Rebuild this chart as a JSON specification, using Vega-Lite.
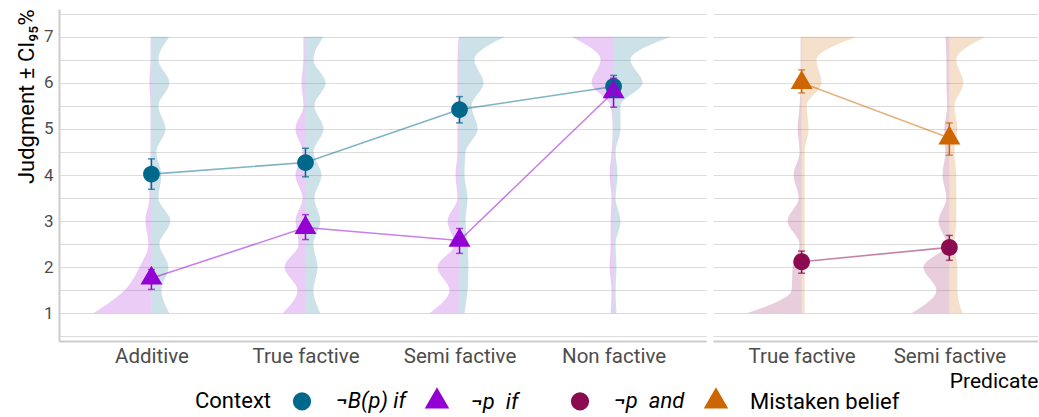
{
  "$schema": "https://vega.github.io/schema/vega-lite/v6.json",
  "padding": {"left": 14, "top": 8, "right": 0, "bottom": 0},
  "spacing": 7,
  "datasets": {
    "pts": [
      {"Context": "¬B(p) if", "Predicate": "Additive", "judgment": 4.02, "lo": 3.69, "hi": 4.35},
      {"Context": "¬B(p) if", "Predicate": "True factive", "judgment": 4.27, "lo": 3.96, "hi": 4.58},
      {"Context": "¬B(p) if", "Predicate": "Semi factive", "judgment": 5.42, "lo": 5.13, "hi": 5.70},
      {"Context": "¬B(p) if", "Predicate": "Non factive", "judgment": 5.92, "lo": 5.70, "hi": 6.16},
      {"Context": "¬p if", "Predicate": "Additive", "judgment": 1.76, "lo": 1.52, "hi": 1.95},
      {"Context": "¬p if", "Predicate": "True factive", "judgment": 2.86, "lo": 2.60, "hi": 3.14},
      {"Context": "¬p if", "Predicate": "Semi factive", "judgment": 2.58, "lo": 2.30, "hi": 2.84},
      {"Context": "¬p if", "Predicate": "Non factive", "judgment": 5.80, "lo": 5.47, "hi": 6.10},
      {"Context": "¬p and", "Predicate": "True factive", "judgment": 2.12, "lo": 1.87, "hi": 2.35},
      {"Context": "¬p and", "Predicate": "Semi factive", "judgment": 2.43, "lo": 2.15, "hi": 2.69},
      {"Context": "Mistaken belief", "Predicate": "True factive", "judgment": 6.00, "lo": 5.78, "hi": 6.28},
      {"Context": "Mistaken belief", "Predicate": "Semi factive", "judgment": 4.80, "lo": 4.43, "hi": 5.13}
    ],
    "vio": [
      {"Context":"¬B(p) if","Predicate":"Additive","judgment":1,"density":0.117},
      {"Context":"¬B(p) if","Predicate":"Additive","judgment":1.5,"density":0.065},
      {"Context":"¬B(p) if","Predicate":"Additive","judgment":2,"density":0.110},
      {"Context":"¬B(p) if","Predicate":"Additive","judgment":2.5,"density":0.052},
      {"Context":"¬B(p) if","Predicate":"Additive","judgment":3,"density":0.123},
      {"Context":"¬B(p) if","Predicate":"Additive","judgment":3.5,"density":0.045},
      {"Context":"¬B(p) if","Predicate":"Additive","judgment":4,"density":0.065},
      {"Context":"¬B(p) if","Predicate":"Additive","judgment":4.5,"density":0.032},
      {"Context":"¬B(p) if","Predicate":"Additive","judgment":5,"density":0.091},
      {"Context":"¬B(p) if","Predicate":"Additive","judgment":5.5,"density":0.045},
      {"Context":"¬B(p) if","Predicate":"Additive","judgment":6,"density":0.117},
      {"Context":"¬B(p) if","Predicate":"Additive","judgment":6.5,"density":0.045},
      {"Context":"¬B(p) if","Predicate":"Additive","judgment":7,"density":0.117},
      {"Context":"¬B(p) if","Predicate":"True factive","judgment":1,"density":0.097},
      {"Context":"¬B(p) if","Predicate":"True factive","judgment":1.5,"density":0.052},
      {"Context":"¬B(p) if","Predicate":"True factive","judgment":2,"density":0.078},
      {"Context":"¬B(p) if","Predicate":"True factive","judgment":2.5,"density":0.052},
      {"Context":"¬B(p) if","Predicate":"True factive","judgment":3,"density":0.097},
      {"Context":"¬B(p) if","Predicate":"True factive","judgment":3.5,"density":0.058},
      {"Context":"¬B(p) if","Predicate":"True factive","judgment":4,"density":0.104},
      {"Context":"¬B(p) if","Predicate":"True factive","judgment":4.5,"density":0.052},
      {"Context":"¬B(p) if","Predicate":"True factive","judgment":5,"density":0.117},
      {"Context":"¬B(p) if","Predicate":"True factive","judgment":5.5,"density":0.058},
      {"Context":"¬B(p) if","Predicate":"True factive","judgment":6,"density":0.130},
      {"Context":"¬B(p) if","Predicate":"True factive","judgment":6.5,"density":0.052},
      {"Context":"¬B(p) if","Predicate":"True factive","judgment":7,"density":0.117},
      {"Context":"¬B(p) if","Predicate":"Semi factive","judgment":1,"density":0.032},
      {"Context":"¬B(p) if","Predicate":"Semi factive","judgment":1.5,"density":0.052},
      {"Context":"¬B(p) if","Predicate":"Semi factive","judgment":2,"density":0.058},
      {"Context":"¬B(p) if","Predicate":"Semi factive","judgment":2.5,"density":0.052},
      {"Context":"¬B(p) if","Predicate":"Semi factive","judgment":3,"density":0.039},
      {"Context":"¬B(p) if","Predicate":"Semi factive","judgment":3.5,"density":0.052},
      {"Context":"¬B(p) if","Predicate":"Semi factive","judgment":4,"density":0.032},
      {"Context":"¬B(p) if","Predicate":"Semi factive","judgment":4.5,"density":0.039},
      {"Context":"¬B(p) if","Predicate":"Semi factive","judgment":5,"density":0.117},
      {"Context":"¬B(p) if","Predicate":"Semi factive","judgment":5.5,"density":0.078},
      {"Context":"¬B(p) if","Predicate":"Semi factive","judgment":6,"density":0.156},
      {"Context":"¬B(p) if","Predicate":"Semi factive","judgment":6.5,"density":0.097},
      {"Context":"¬B(p) if","Predicate":"Semi factive","judgment":7,"density":0.292},
      {"Context":"¬B(p) if","Predicate":"Non factive","judgment":1,"density":0.019},
      {"Context":"¬B(p) if","Predicate":"Non factive","judgment":1.5,"density":0.013},
      {"Context":"¬B(p) if","Predicate":"Non factive","judgment":2,"density":0.019},
      {"Context":"¬B(p) if","Predicate":"Non factive","judgment":2.5,"density":0.013},
      {"Context":"¬B(p) if","Predicate":"Non factive","judgment":3,"density":0.045},
      {"Context":"¬B(p) if","Predicate":"Non factive","judgment":3.5,"density":0.013},
      {"Context":"¬B(p) if","Predicate":"Non factive","judgment":4,"density":0.026},
      {"Context":"¬B(p) if","Predicate":"Non factive","judgment":4.5,"density":0.013},
      {"Context":"¬B(p) if","Predicate":"Non factive","judgment":5,"density":0.045},
      {"Context":"¬B(p) if","Predicate":"Non factive","judgment":5.5,"density":0.045},
      {"Context":"¬B(p) if","Predicate":"Non factive","judgment":6,"density":0.188},
      {"Context":"¬B(p) if","Predicate":"Non factive","judgment":6.5,"density":0.110},
      {"Context":"¬B(p) if","Predicate":"Non factive","judgment":7,"density":0.370},
      {"Context":"¬p if","Predicate":"Additive","judgment":1,"density":0.377},
      {"Context":"¬p if","Predicate":"Additive","judgment":1.5,"density":0.175},
      {"Context":"¬p if","Predicate":"Additive","judgment":2,"density":0.078},
      {"Context":"¬p if","Predicate":"Additive","judgment":2.5,"density":0.019},
      {"Context":"¬p if","Predicate":"Additive","judgment":3,"density":0.039},
      {"Context":"¬p if","Predicate":"Additive","judgment":3.5,"density":0.013},
      {"Context":"¬p if","Predicate":"Additive","judgment":4,"density":0.013},
      {"Context":"¬p if","Predicate":"Additive","judgment":4.5,"density":0.006},
      {"Context":"¬p if","Predicate":"Additive","judgment":5,"density":0.006},
      {"Context":"¬p if","Predicate":"Additive","judgment":5.5,"density":0.006},
      {"Context":"¬p if","Predicate":"Additive","judgment":6,"density":0.013},
      {"Context":"¬p if","Predicate":"Additive","judgment":6.5,"density":0.006},
      {"Context":"¬p if","Predicate":"Additive","judgment":7,"density":0.006},
      {"Context":"¬p if","Predicate":"True factive","judgment":1,"density":0.149},
      {"Context":"¬p if","Predicate":"True factive","judgment":1.5,"density":0.052},
      {"Context":"¬p if","Predicate":"True factive","judgment":2,"density":0.136},
      {"Context":"¬p if","Predicate":"True factive","judgment":2.5,"density":0.045},
      {"Context":"¬p if","Predicate":"True factive","judgment":3,"density":0.065},
      {"Context":"¬p if","Predicate":"True factive","judgment":3.5,"density":0.019},
      {"Context":"¬p if","Predicate":"True factive","judgment":4,"density":0.065},
      {"Context":"¬p if","Predicate":"True factive","judgment":4.5,"density":0.019},
      {"Context":"¬p if","Predicate":"True factive","judgment":5,"density":0.065},
      {"Context":"¬p if","Predicate":"True factive","judgment":5.5,"density":0.013},
      {"Context":"¬p if","Predicate":"True factive","judgment":6,"density":0.026},
      {"Context":"¬p if","Predicate":"True factive","judgment":6.5,"density":0.013},
      {"Context":"¬p if","Predicate":"True factive","judgment":7,"density":0.013},
      {"Context":"¬p if","Predicate":"Semi factive","judgment":1,"density":0.195},
      {"Context":"¬p if","Predicate":"Semi factive","judgment":1.5,"density":0.065},
      {"Context":"¬p if","Predicate":"Semi factive","judgment":2,"density":0.143},
      {"Context":"¬p if","Predicate":"Semi factive","judgment":2.5,"density":0.032},
      {"Context":"¬p if","Predicate":"Semi factive","judgment":3,"density":0.078},
      {"Context":"¬p if","Predicate":"Semi factive","judgment":3.5,"density":0.013},
      {"Context":"¬p if","Predicate":"Semi factive","judgment":4,"density":0.026},
      {"Context":"¬p if","Predicate":"Semi factive","judgment":4.5,"density":0.013},
      {"Context":"¬p if","Predicate":"Semi factive","judgment":5,"density":0.013},
      {"Context":"¬p if","Predicate":"Semi factive","judgment":5.5,"density":0.013},
      {"Context":"¬p if","Predicate":"Semi factive","judgment":6,"density":0.013},
      {"Context":"¬p if","Predicate":"Semi factive","judgment":6.5,"density":0.013},
      {"Context":"¬p if","Predicate":"Semi factive","judgment":7,"density":0.006},
      {"Context":"¬p if","Predicate":"Non factive","judgment":1,"density":0.019},
      {"Context":"¬p if","Predicate":"Non factive","judgment":1.5,"density":0.013},
      {"Context":"¬p if","Predicate":"Non factive","judgment":2,"density":0.026},
      {"Context":"¬p if","Predicate":"Non factive","judgment":2.5,"density":0.019},
      {"Context":"¬p if","Predicate":"Non factive","judgment":3,"density":0.019},
      {"Context":"¬p if","Predicate":"Non factive","judgment":3.5,"density":0.013},
      {"Context":"¬p if","Predicate":"Non factive","judgment":4,"density":0.026},
      {"Context":"¬p if","Predicate":"Non factive","judgment":4.5,"density":0.013},
      {"Context":"¬p if","Predicate":"Non factive","judgment":5,"density":0.006},
      {"Context":"¬p if","Predicate":"Non factive","judgment":5.5,"density":0.019},
      {"Context":"¬p if","Predicate":"Non factive","judgment":6,"density":0.143},
      {"Context":"¬p if","Predicate":"Non factive","judgment":6.5,"density":0.084},
      {"Context":"¬p if","Predicate":"Non factive","judgment":7,"density":0.273},
      {"Context":"¬p and","Predicate":"True factive","judgment":1,"density":0.372},
      {"Context":"¬p and","Predicate":"True factive","judgment":1.5,"density":0.068},
      {"Context":"¬p and","Predicate":"True factive","judgment":2,"density":0.061},
      {"Context":"¬p and","Predicate":"True factive","judgment":2.5,"density":0.014},
      {"Context":"¬p and","Predicate":"True factive","judgment":3,"density":0.095},
      {"Context":"¬p and","Predicate":"True factive","judgment":3.5,"density":0.020},
      {"Context":"¬p and","Predicate":"True factive","judgment":4,"density":0.054},
      {"Context":"¬p and","Predicate":"True factive","judgment":4.5,"density":0.014},
      {"Context":"¬p and","Predicate":"True factive","judgment":5,"density":0.027},
      {"Context":"¬p and","Predicate":"True factive","judgment":5.5,"density":0.014},
      {"Context":"¬p and","Predicate":"True factive","judgment":6,"density":0.007},
      {"Context":"¬p and","Predicate":"True factive","judgment":6.5,"density":0.007},
      {"Context":"¬p and","Predicate":"True factive","judgment":7,"density":0.007},
      {"Context":"¬p and","Predicate":"Semi factive","judgment":1,"density":0.257},
      {"Context":"¬p and","Predicate":"Semi factive","judgment":1.5,"density":0.088},
      {"Context":"¬p and","Predicate":"Semi factive","judgment":2,"density":0.176},
      {"Context":"¬p and","Predicate":"Semi factive","judgment":2.5,"density":0.020},
      {"Context":"¬p and","Predicate":"Semi factive","judgment":3,"density":0.074},
      {"Context":"¬p and","Predicate":"Semi factive","judgment":3.5,"density":0.020},
      {"Context":"¬p and","Predicate":"Semi factive","judgment":4,"density":0.047},
      {"Context":"¬p and","Predicate":"Semi factive","judgment":4.5,"density":0.027},
      {"Context":"¬p and","Predicate":"Semi factive","judgment":5,"density":0.034},
      {"Context":"¬p and","Predicate":"Semi factive","judgment":5.5,"density":0.014},
      {"Context":"¬p and","Predicate":"Semi factive","judgment":6,"density":0.020},
      {"Context":"¬p and","Predicate":"Semi factive","judgment":6.5,"density":0.020},
      {"Context":"¬p and","Predicate":"Semi factive","judgment":7,"density":0.027},
      {"Context":"Mistaken belief","Predicate":"True factive","judgment":1,"density":0.020},
      {"Context":"Mistaken belief","Predicate":"True factive","judgment":1.5,"density":0.020},
      {"Context":"Mistaken belief","Predicate":"True factive","judgment":2,"density":0.020},
      {"Context":"Mistaken belief","Predicate":"True factive","judgment":2.5,"density":0.020},
      {"Context":"Mistaken belief","Predicate":"True factive","judgment":3,"density":0.020},
      {"Context":"Mistaken belief","Predicate":"True factive","judgment":3.5,"density":0.020},
      {"Context":"Mistaken belief","Predicate":"True factive","judgment":4,"density":0.020},
      {"Context":"Mistaken belief","Predicate":"True factive","judgment":4.5,"density":0.020},
      {"Context":"Mistaken belief","Predicate":"True factive","judgment":5,"density":0.047},
      {"Context":"Mistaken belief","Predicate":"True factive","judgment":5.5,"density":0.034},
      {"Context":"Mistaken belief","Predicate":"True factive","judgment":6,"density":0.135},
      {"Context":"Mistaken belief","Predicate":"True factive","judgment":6.5,"density":0.101},
      {"Context":"Mistaken belief","Predicate":"True factive","judgment":7,"density":0.372},
      {"Context":"Mistaken belief","Predicate":"Semi factive","judgment":1,"density":0.088},
      {"Context":"Mistaken belief","Predicate":"Semi factive","judgment":1.5,"density":0.054},
      {"Context":"Mistaken belief","Predicate":"Semi factive","judgment":2,"density":0.054},
      {"Context":"Mistaken belief","Predicate":"Semi factive","judgment":2.5,"density":0.034},
      {"Context":"Mistaken belief","Predicate":"Semi factive","judgment":3,"density":0.047},
      {"Context":"Mistaken belief","Predicate":"Semi factive","judgment":3.5,"density":0.047},
      {"Context":"Mistaken belief","Predicate":"Semi factive","judgment":4,"density":0.047},
      {"Context":"Mistaken belief","Predicate":"Semi factive","judgment":4.5,"density":0.034},
      {"Context":"Mistaken belief","Predicate":"Semi factive","judgment":5,"density":0.054},
      {"Context":"Mistaken belief","Predicate":"Semi factive","judgment":5.5,"density":0.034},
      {"Context":"Mistaken belief","Predicate":"Semi factive","judgment":6,"density":0.095},
      {"Context":"Mistaken belief","Predicate":"Semi factive","judgment":6.5,"density":0.047},
      {"Context":"Mistaken belief","Predicate":"Semi factive","judgment":7,"density":0.243}
    ]
  },
  "hconcat": [
    {
      "width": 647,
      "height": 332,
      "encoding": {
        "x": {"field": "xpos", "type": "quantitative", "stack": null,
          "scale": {"domain": [-0.6, 3.6], "nice": false, "zero": false},
          "axis": {"values": [0, 1, 2, 3], "labelExpr": "['Additive','True factive','Semi factive','Non factive'][datum.value]", "grid": false, "labelFontSize": 20.5, "labelPadding": 5, "labelFlush": false, "title": null}},
        "y": {"field": "judgment", "type": "quantitative",
          "scale": {"domain": [0.4, 7.6], "nice": false, "zero": false},
          "axis": {"values": [0.5, 1, 1.5, 2, 2.5, 3, 3.5, 4, 4.5, 5, 5.5, 6, 6.5, 7, 7.5], "labelExpr": "datum.value % 1 === 0 ? format(datum.value, 'd') : ''", "grid": true, "labelFontSize": 17, "labelPadding": 6, "minExtent": 16, "maxExtent": 16, "title": "Judgment ± CI₉₅%", "titleFontSize": 22, "titleAnchor": "end", "titlePadding": 5}},
        "color": {"field": "Context", "type": "nominal",
          "scale": {"domain": ["¬B(p) if", "¬p if", "¬p and", "Mistaken belief"], "range": ["#00688B", "#9400D3", "#8B0A50", "#CD6600"]},
          "legend": {
            "orient": "none", "legendX": 136, "legendY": 380, "direction": "horizontal",
            "title": "Context", "titleOrient": "left", "titleFontSize": 22, "titleFontWeight": "normal", "titleColor": "#000000", "titlePadding": 19,
            "labelFontSize": 22, "labelColor": "#000000", "labelOffset": 22, "columnPadding": 17, "symbolSize": 480, "labelLimit": 300,
            "labelExpr": "datum.label === '¬p if' ? '¬p\u2002if\u00a0\u00a0\u00a0\u00a0\u00a0\u00a0\u200b' : datum.label === '¬p and' ? '¬p\u2002and' : datum.label",
            "encode": {
              "symbols": {"update": {
                "shape": {"signal": "datum.value === '¬B(p) if' || datum.value === '¬p and' ? 'M0.763,0A0.763,0.763,0,1,1,-0.763,0A0.763,0.763,0,1,1,0.763,0ZM-1.32,-0.06H-0.75V0.06H-1.32ZM0.75,-0.06H1.32V0.06H0.75Z' : 'M0,-1.155L1,0.577L-1,0.577ZM-1.32,-0.06H-0.62V0.06H-1.32ZM0.62,-0.06H1.32V0.06H0.62Z'"},
                "opacity": {"value": 1}
              }},
              "labels": {"update": {"fontStyle": {"signal": "datum.value === 'Mistaken belief' ? 'normal' : 'italic'"}}}
            }
          }}
      },
      "layer": [
        {
          "data": {"name": "vio"},
          "transform": [
            {"filter": {"field": "Context", "oneOf": ["¬B(p) if", "¬p if"]}},
            {"calculate": "indexof(['Additive','True factive','Semi factive','Non factive'], datum.Predicate)", "as": "idx"},
            {"calculate": "datum.Context === '¬p if' ? datum.idx - datum.density : datum.idx + datum.density", "as": "xpos"}
          ],
          "mark": {"type": "area", "orient": "horizontal", "interpolate": "monotone", "opacity": 0.2},
          "encoding": {"x2": {"field": "idx"}, "detail": {"field": "Predicate"}}
        },
        {
          "data": {"name": "pts"},
          "transform": [
            {"filter": {"field": "Context", "oneOf": ["¬B(p) if", "¬p if"]}},
            {"calculate": "indexof(['Additive','True factive','Semi factive','Non factive'], datum.Predicate)", "as": "xpos"}
          ],
          "mark": {"type": "line", "strokeWidth": 1.6, "opacity": 0.5}
        },
        {
          "data": {"name": "pts"},
          "transform": [
            {"filter": {"field": "Context", "oneOf": ["¬B(p) if", "¬p if"]}},
            {"calculate": "indexof(['Additive','True factive','Semi factive','Non factive'], datum.Predicate)", "as": "xpos"}
          ],
          "mark": {"type": "point", "filled": true, "opacity": 1, "size": 480},
          "encoding": {
            "shape": {"field": "Context", "type": "nominal",
              "scale": {"domain": ["¬B(p) if", "¬p if", "¬p and", "Mistaken belief"], "range": ["M0.763,0A0.763,0.763,0,1,1,-0.763,0A0.763,0.763,0,1,1,0.763,0Z", "M0,-1.155L1,0.577L-1,0.577Z", "M0.763,0A0.763,0.763,0,1,1,-0.763,0A0.763,0.763,0,1,1,0.763,0Z", "M0,-1.155L1,0.577L-1,0.577Z"]},
              "legend": {
                "orient": "none", "legendX": 136, "legendY": 380, "direction": "horizontal",
                "title": "Context", "titleOrient": "left", "titleFontSize": 22, "titleFontWeight": "normal", "titleColor": "#000000", "titlePadding": 19,
                "labelFontSize": 22, "labelColor": "#000000", "labelOffset": 22, "columnPadding": 17, "symbolSize": 480, "labelLimit": 300,
                "labelExpr": "datum.label === '¬p if' ? '¬p\u2002if\u00a0\u00a0\u00a0\u00a0\u00a0\u00a0\u200b' : datum.label === '¬p and' ? '¬p\u2002and' : datum.label",
                "encode": {
                  "symbols": {"update": {
                    "shape": {"signal": "datum.value === '¬B(p) if' || datum.value === '¬p and' ? 'M0.763,0A0.763,0.763,0,1,1,-0.763,0A0.763,0.763,0,1,1,0.763,0ZM-1.32,-0.06H-0.75V0.06H-1.32ZM0.75,-0.06H1.32V0.06H0.75Z' : 'M0,-1.155L1,0.577L-1,0.577ZM-1.32,-0.06H-0.62V0.06H-1.32ZM0.62,-0.06H1.32V0.06H0.62Z'"},
                    "opacity": {"value": 1}
                  }},
                  "labels": {"update": {"fontStyle": {"signal": "datum.value === 'Mistaken belief' ? 'normal' : 'italic'"}}}
                }
              }}
          }
        },
        {
          "data": {"name": "pts"},
          "transform": [
            {"filter": {"field": "Context", "oneOf": ["¬B(p) if", "¬p if"]}},
            {"calculate": "indexof(['Additive','True factive','Semi factive','Non factive'], datum.Predicate)", "as": "xpos"}
          ],
          "mark": {"type": "errorbar", "ticks": {"size": 7}, "thickness": 1.5},
          "encoding": {
            "y": {"field": "lo", "type": "quantitative", "scale": {"domain": [0.4, 7.6], "nice": false, "zero": false}},
            "y2": {"field": "hi"}
          }
        }
      ]
    },
    {
      "width": 325,
      "height": 332,
      "encoding": {
        "x": {"field": "xpos", "type": "quantitative", "stack": null,
          "scale": {"domain": [-0.6, 1.6], "nice": false, "zero": false},
          "axis": {"values": [0, 1], "labelExpr": "['True factive','Semi factive'][datum.value]", "grid": false, "labelFontSize": 20.5, "labelPadding": 5, "labelFlush": false, "title": "Predicate", "titleAnchor": "end", "titleFontSize": 21, "titlePadding": 4}},
        "y": {"field": "judgment", "type": "quantitative",
          "scale": {"domain": [0.4, 7.6], "nice": false, "zero": false},
          "axis": {"values": [0.5, 1, 1.5, 2, 2.5, 3, 3.5, 4, 4.5, 5, 5.5, 6, 6.5, 7, 7.5], "grid": true, "labels": false, "domain": false, "ticks": false, "title": null, "minExtent": 0, "maxExtent": 0}},
        "color": {"field": "Context", "type": "nominal",
          "scale": {"domain": ["¬B(p) if", "¬p if", "¬p and", "Mistaken belief"], "range": ["#00688B", "#9400D3", "#8B0A50", "#CD6600"]}}
      },
      "layer": [
        {
          "data": {"name": "vio"},
          "transform": [
            {"filter": {"field": "Context", "oneOf": ["¬p and", "Mistaken belief"]}},
            {"calculate": "indexof(['True factive','Semi factive'], datum.Predicate)", "as": "idx"},
            {"calculate": "datum.Context === '¬p and' ? datum.idx - datum.density : datum.idx + datum.density", "as": "xpos"}
          ],
          "mark": {"type": "area", "orient": "horizontal", "interpolate": "monotone", "opacity": 0.2},
          "encoding": {"x2": {"field": "idx"}, "detail": {"field": "Predicate"}}
        },
        {
          "data": {"name": "pts"},
          "transform": [
            {"filter": {"field": "Context", "oneOf": ["¬p and", "Mistaken belief"]}},
            {"calculate": "indexof(['True factive','Semi factive'], datum.Predicate)", "as": "xpos"}
          ],
          "mark": {"type": "line", "strokeWidth": 1.6, "opacity": 0.5}
        },
        {
          "data": {"name": "pts"},
          "transform": [
            {"filter": {"field": "Context", "oneOf": ["¬p and", "Mistaken belief"]}},
            {"calculate": "indexof(['True factive','Semi factive'], datum.Predicate)", "as": "xpos"}
          ],
          "mark": {"type": "point", "filled": true, "opacity": 1, "size": 480},
          "encoding": {
            "shape": {"field": "Context", "type": "nominal",
              "scale": {"domain": ["¬B(p) if", "¬p if", "¬p and", "Mistaken belief"], "range": ["M0.763,0A0.763,0.763,0,1,1,-0.763,0A0.763,0.763,0,1,1,0.763,0Z", "M0,-1.155L1,0.577L-1,0.577Z", "M0.763,0A0.763,0.763,0,1,1,-0.763,0A0.763,0.763,0,1,1,0.763,0Z", "M0,-1.155L1,0.577L-1,0.577Z"]}}
          }
        },
        {
          "data": {"name": "pts"},
          "transform": [
            {"filter": {"field": "Context", "oneOf": ["¬p and", "Mistaken belief"]}},
            {"calculate": "indexof(['True factive','Semi factive'], datum.Predicate)", "as": "xpos"}
          ],
          "mark": {"type": "errorbar", "ticks": {"size": 7}, "thickness": 1.5},
          "encoding": {
            "y": {"field": "lo", "type": "quantitative", "scale": {"domain": [0.4, 7.6], "nice": false, "zero": false}},
            "y2": {"field": "hi"}
          }
        }
      ]
    }
  ],
  "resolve": {"scale": {"x": "independent"}},
  "config": {
    "view": {"stroke": null},
    "font": "Roboto",
    "axis": {"gridColor": "#dcdcdc", "gridWidth": 1.2, "domainColor": "#cccccc", "domainWidth": 2, "ticks": false, "labelColor": "#4d4d4d", "labelFont": "Roboto", "titleFont": "Roboto", "titleColor": "#000000", "titleFontWeight": "normal"},
    "legend": {"titleFont": "Roboto", "labelFont": "Roboto", "labelFontSize": 22, "titleFontSize": 22, "labelLimit": 300}
  }
}
